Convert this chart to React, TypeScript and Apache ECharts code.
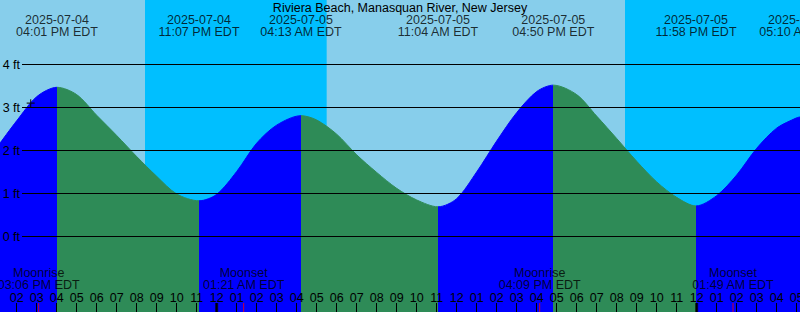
import React, { useEffect, useRef } from "react";
import * as echarts from "echarts";

const TITLE = "Riviera Beach, Manasquan River, New Jersey";
const AXIS_START = "2025-07-04 13:10";
const AXIS_END = "2025-07-06 05:10";
const Y_MIN = -1.756;
const Y_MAX = 5.5;
const GRID_FT_MIN = 0;
const GRID_FT_MAX = 4;

// tide curve (ft)
const curveTimes = [
  "2025-07-04 13:10", "2025-07-04 14:00", "2025-07-04 15:00", "2025-07-04 16:01",
  "2025-07-04 17:00", "2025-07-04 18:00", "2025-07-04 19:00", "2025-07-04 20:00",
  "2025-07-04 21:00", "2025-07-04 22:00", "2025-07-04 23:07", "2025-07-05 00:00",
  "2025-07-05 01:00", "2025-07-05 02:00", "2025-07-05 03:00", "2025-07-05 04:13",
  "2025-07-05 05:00", "2025-07-05 06:00", "2025-07-05 07:00", "2025-07-05 08:00",
  "2025-07-05 09:00", "2025-07-05 10:00", "2025-07-05 11:04", "2025-07-05 12:00",
  "2025-07-05 13:00", "2025-07-05 14:00", "2025-07-05 15:00", "2025-07-05 16:00",
  "2025-07-05 16:50", "2025-07-05 18:00", "2025-07-05 19:00", "2025-07-05 20:00",
  "2025-07-05 21:00", "2025-07-05 22:00", "2025-07-05 23:00", "2025-07-05 23:58",
  "2025-07-06 01:00", "2025-07-06 02:00", "2025-07-06 03:00", "2025-07-06 04:00",
  "2025-07-06 05:00", "2025-07-06 05:10",
];
const curveHeights = [
  2.17, 2.69, 3.25, 3.47,
  3.3, 2.82, 2.35, 1.86,
  1.4, 0.99, 0.83, 0.98,
  1.51, 2.17, 2.59, 2.81,
  2.71, 2.38, 1.9, 1.49,
  1.12, 0.85, 0.69, 0.88,
  1.5, 2.22, 2.88, 3.37,
  3.52, 3.3, 2.8, 2.28,
  1.75, 1.27, 0.91, 0.71,
  0.95, 1.43, 2.05, 2.52,
  2.76, 2.78,
];

// high / low tide events
const tideEventTimes = [
  "2025-07-04 16:01", "2025-07-04 23:07", "2025-07-05 04:13", "2025-07-05 11:04",
  "2025-07-05 16:50", "2025-07-05 23:58", "2025-07-06 05:10",
];
const tideEventKinds = ["high", "low", "high", "low", "high", "low", "high"];
const tideEventDates = [
  "2025-07-04", "2025-07-04", "2025-07-05", "2025-07-05", "2025-07-05", "2025-07-05", "2025-07-06",
];
const tideEventLabels = [
  "04:01 PM EDT", "11:07 PM EDT", "04:13 AM EDT", "11:04 AM EDT", "04:50 PM EDT", "11:58 PM EDT", "05:10 AM EDT",
];

// moon events
const moonTimes = ["2025-07-04 15:06", "2025-07-05 01:21", "2025-07-05 16:09", "2025-07-06 01:49"];
const moonKinds = ["Moonrise", "Moonset", "Moonrise", "Moonset"];
const moonLabels = ["03:06 PM EDT", "01:21 AM EDT", "04:09 PM EDT", "01:49 AM EDT"];

// night (sunset -> sunrise)
const nightStarts = ["2025-07-04 20:25", "2025-07-05 20:25"];
const nightEnds = ["2025-07-05 05:30", "2025-07-06 05:31"];

const midnights = ["2025-07-05 00:00", "2025-07-06 00:00"];

const markerTimes = ["2025-07-04 14:42"];
const markerHeights = [3.1];

const DAY = "#87CEEB";
const NIGHT = "#00BFFF";
const RISING = "#0000FF";
const FALLING = "#2E8B57";
const FONT = "'Liberation Sans', Arial, sans-serif";
const FS = 12.5;

function ts(s: string): number {
  const [d, hm] = s.split(" ");
  const [Y, M, D] = d.split("-").map(Number);
  const [h, m] = hm.split(":").map(Number);
  return new Date(Y, M - 1, D, h, m).getTime();
}

function buildPieces() {
  const pieces: any[] = [];
  const evs = tideEventTimes.map(ts);
  pieces.push({ lt: evs[0], color: tideEventKinds[0] === "high" ? RISING : FALLING });
  for (let i = 0; i < evs.length - 1; i++) {
    pieces.push({ gte: evs[i], lt: evs[i + 1], color: tideEventKinds[i] === "high" ? FALLING : RISING });
  }
  const last = evs.length - 1;
  pieces.push({ gte: evs[last], color: tideEventKinds[last] === "high" ? FALLING : RISING });
  return pieces;
}

export default function App() {
  const ref = useRef<HTMLDivElement>(null);
  useEffect(() => {
    if (!ref.current) return;
    const chart = echarts.init(ref.current, undefined, { renderer: "svg" });
    const xMin = ts(AXIS_START);
    const xMax = ts(AXIS_END);
    const curve = curveTimes.map((t, i) => [ts(t), curveHeights[i]]);
    const textStyle = { fontFamily: FONT, fontSize: FS, color: "#000" };

    chart.setOption({
      animation: false,
      title: {
        text: TITLE,
        left: "center",
        top: 1.5,
        padding: 0,
        textStyle: { ...textStyle, fontWeight: "normal", lineHeight: 12 },
      },
      grid: [
        {
          left: 0, right: 0, top: 0, bottom: 0, show: true, backgroundColor: DAY, borderWidth: 0,
          containLabel: false, outerBoundsMode: "none",
        },
        { left: 22, right: 0, top: 64.5, height: 172, show: false, containLabel: false, outerBoundsMode: "none" },
      ],
      xAxis: [
        {
          type: "time",
          gridIndex: 0,
          min: xMin,
          max: xMax,
          minInterval: 3600000,
          maxInterval: 3600000,
          z: 10,
          axisLine: { show: false, onZero: false },
          axisTick: { show: true, inside: true, length: 9, lineStyle: { color: "#000", width: 1 } },
          splitLine: { show: false },
          axisLabel: {
            inside: true,
            margin: 8,
            interval: 0,
            hideOverlap: false,
            showMinLabel: false,
            showMaxLabel: false,
            ...textStyle,
            fontWeight: "normal",
            formatter: (v: number) => {
              const h = new Date(v).getHours();
              const h12 = h % 12 === 0 ? 12 : h % 12;
              return String(h12).padStart(2, "0");
            },
          },
        },
        { type: "value", gridIndex: 1, min: 0, max: 1, show: false },
      ],
      yAxis: [
        { type: "value", gridIndex: 0, min: Y_MIN, max: Y_MAX, show: false },
        {
          type: "value",
          gridIndex: 1,
          min: GRID_FT_MIN,
          max: GRID_FT_MAX,
          interval: 1,
          z: 5,
          axisLine: { show: false },
          axisTick: { show: false },
          splitLine: { show: true, lineStyle: { color: "#000", width: 1 } },
          axisLabel: { margin: 2, formatter: "{value} ft", ...textStyle },
        },
      ],
      visualMap: {
        type: "piecewise",
        show: false,
        dimension: 0,
        seriesIndex: 1,
        pieces: buildPieces(),
      },
      series: [
        {
          name: "night",
          type: "line",
          xAxisIndex: 0,
          yAxisIndex: 0,
          z: 1,
          data: curve,
          showSymbol: false,
          lineStyle: { width: 0, opacity: 0 },
          silent: true,
          markArea: {
            silent: true,
            itemStyle: { color: NIGHT, opacity: 1 },
            data: nightStarts.map((s, i) => [{ xAxis: ts(s) }, { xAxis: ts(nightEnds[i]) }]),
          },
        },
        {
          name: "tide",
          type: "line",
          xAxisIndex: 0,
          yAxisIndex: 0,
          z: 2,
          data: curve,
          smooth: 0.3,
          showSymbol: false,
          lineStyle: { width: 1 },
          areaStyle: { opacity: 1, origin: "start" },
          silent: true,
        },
        {
          name: "events",
          type: "scatter",
          xAxisIndex: 0,
          yAxisIndex: 0,
          z: 10,
          clip: false,
          symbolSize: 0.01,
          itemStyle: { color: "transparent" },
          data: tideEventTimes.map((t) => [ts(t), Y_MAX]),
          label: {
            show: true,
            position: "bottom",
            distance: 14,
            lineHeight: 11.7,
            align: "center",
            ...textStyle,
            formatter: (p: any) => `${tideEventDates[p.dataIndex]}\n${tideEventLabels[p.dataIndex]}`,
          },
          silent: true,
        },
        {
          name: "moon",
          type: "scatter",
          xAxisIndex: 0,
          yAxisIndex: 0,
          z: 11,
          clip: false,
          symbol: "rect",
          symbolSize: [1, 18],
          itemStyle: { color: "#FF0000" },
          data: moonTimes.map((t) => [ts(t), Y_MIN]),
          label: {
            show: true,
            position: "top",
            distance: 12.6,
            lineHeight: 11.3,
            align: "center",
            ...textStyle,
            formatter: (p: any) => `${moonKinds[p.dataIndex]}\n${moonLabels[p.dataIndex]}`,
          },
          silent: true,
        },
        {
          name: "midnight",
          type: "scatter",
          xAxisIndex: 0,
          yAxisIndex: 0,
          z: 11,
          clip: false,
          symbol: "rect",
          symbolSize: [3, 18],
          itemStyle: { color: "#000" },
          data: midnights.map((t) => [ts(t), Y_MIN]),
          silent: true,
        },
        {
          name: "marker",
          type: "scatter",
          xAxisIndex: 0,
          yAxisIndex: 0,
          z: 12,
          symbol: "path://M0,5L10,5M5,0L5,10",
          symbolSize: 8,
          itemStyle: { color: "transparent", borderColor: "#000", borderWidth: 1.2 },
          data: markerTimes.map((t, i) => [ts(t), markerHeights[i]]),
          silent: true,
        },
      ],
    });
    return () => chart.dispose();
  }, []);
  return (
    <div
      ref={ref}
      style={{ position: "absolute", left: 0, top: 0, width: 800, height: 312 }}
    />
  );
}
